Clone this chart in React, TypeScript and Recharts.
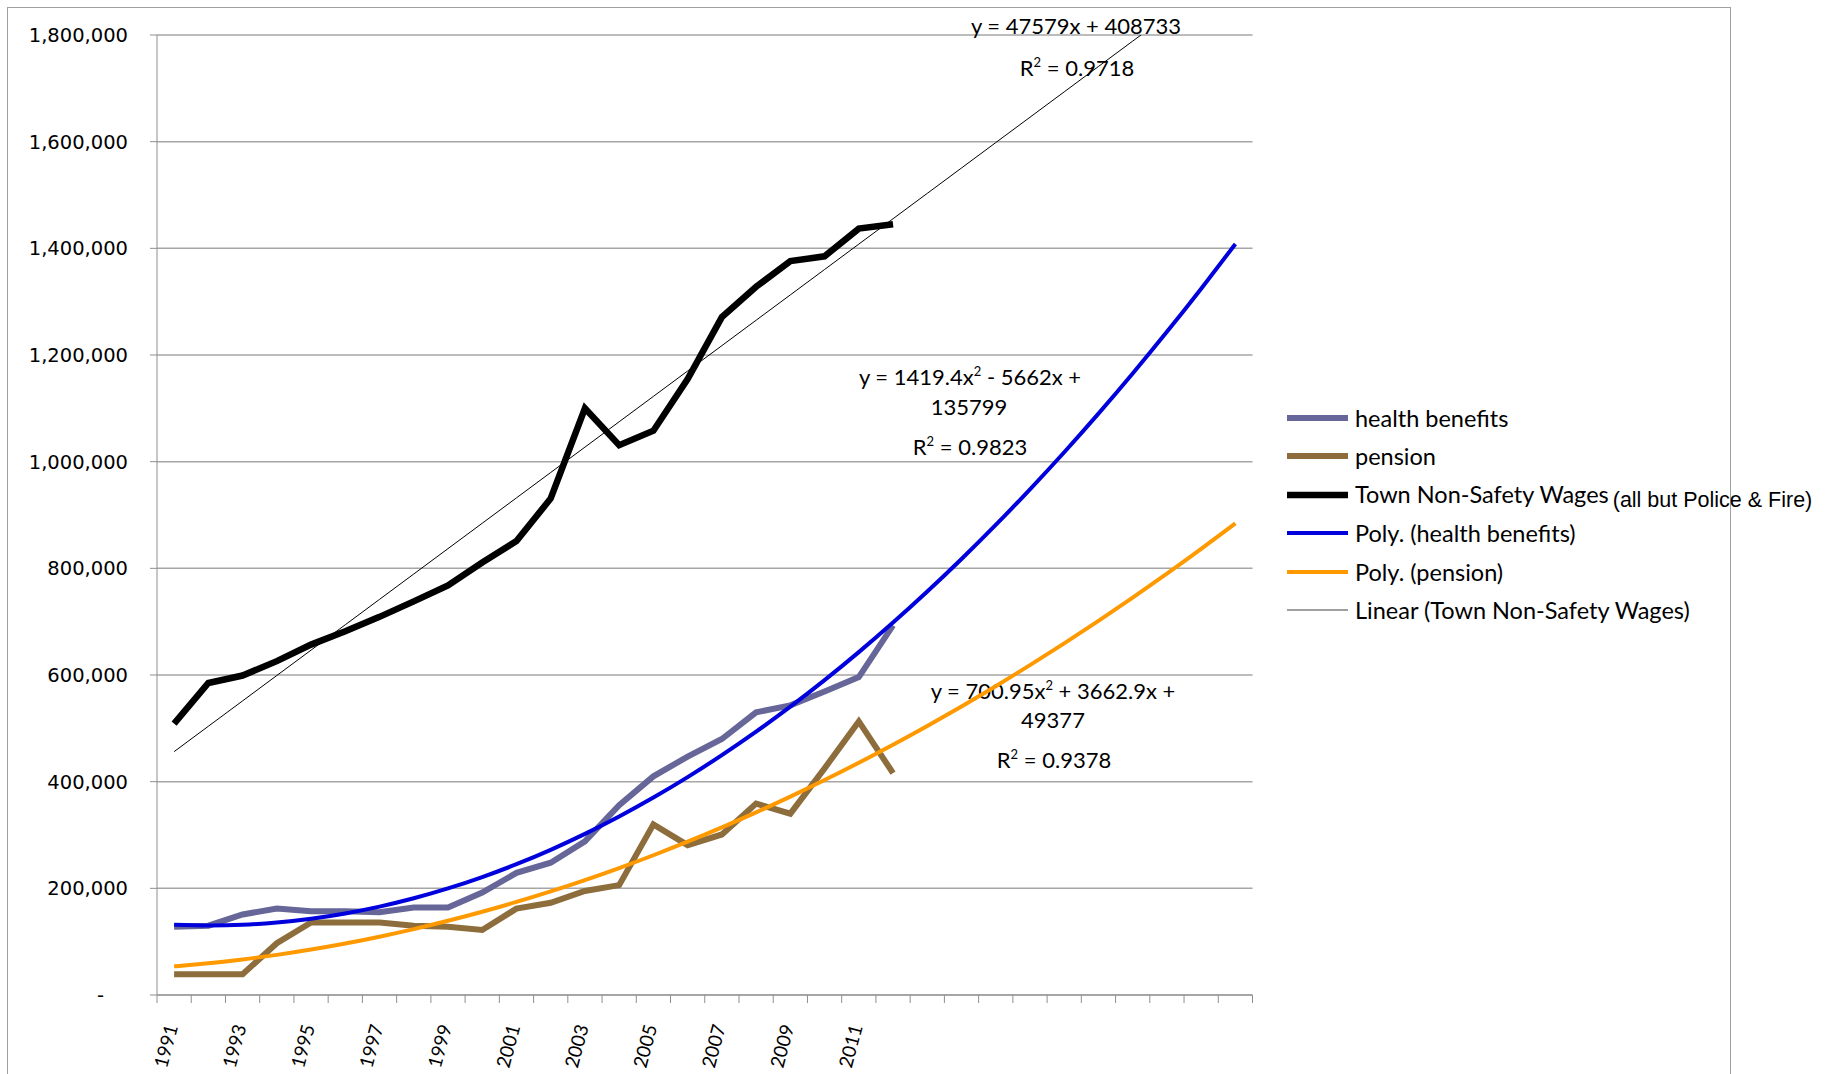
import React from 'react';
import { LineChart, Line, XAxis, YAxis, CartesianGrid, Legend, Customized } from 'recharts';

// Fiscal years with recorded figures
const YEARS = [
  1991, 1992, 1993, 1994, 1995, 1996, 1997, 1998, 1999, 2000, 2001,
  2002, 2003, 2004, 2005, 2006, 2007, 2008, 2009, 2010, 2011, 2012,
];
// Periods the trendlines are projected past the last recorded year
const FORECAST_PERIODS = 10;

const HEALTH_BENEFITS = [
  128000, 130000, 151000, 162000, 157000, 157000, 155000, 164000, 164000, 192000, 229000,
  248000, 288000, 356000, 410000, 447000, 480000, 530000, 543000, 569000, 596000, 693000,
];
const PENSION = [
  39000, 39000, 39000, 97000, 136000, 136000, 136000, 130000, 128000, 122000, 162000,
  173000, 195000, 206000, 320000, 281000, 301000, 359000, 340000, 425000, 513000, 416000,
];
const NON_SAFETY_WAGES = [
  509000, 585000, 599000, 626000, 657000, 682000, 709000, 738000, 768000, 811000, 851000,
  931000, 1100000, 1031000, 1058000, 1155000, 1271000, 1328000, 1376000, 1385000, 1437000, 1445000,
];

const Y_TICKS = [0, 200000, 400000, 600000, 800000, 1000000, 1200000, 1400000, 1600000, 1800000];

// Fitted trendlines, x = period number (1991 = 1)
const WAGES_LINEAR = { slope: 47579, intercept: 408733, r2: 0.9718 };
const HEALTH_POLY = { a: 1419.4, b: -5662, c: 135799, r2: 0.9823 };
const PENSION_POLY = { a: 700.95, b: 3662.9, c: 49377, r2: 0.9378 };

const TOTAL_PERIODS = YEARS.length + FORECAST_PERIODS;

type Poly = { a: number; b: number; c: number };
const quad = (p: Poly, x: number) => p.a * x * x + p.b * x + p.c;
const recorded = (arr: number[], i: number) => (i < YEARS.length ? arr[i] : null);

const chartData = Array.from({ length: TOTAL_PERIODS }, (_, i) => {
  const x = i + 1;
  return {
    period: x,
    health: recorded(HEALTH_BENEFITS, i),
    pension: recorded(PENSION, i),
    wages: recorded(NON_SAFETY_WAGES, i),
    polyHealth: quad(HEALTH_POLY, x),
    polyPension: quad(PENSION_POLY, x),
    linearWages: WAGES_LINEAR.slope * x + WAGES_LINEAR.intercept,
  };
});

// Tick marks sit between categories; year labels on every other category
const BOUNDARY_TICKS = Array.from({ length: TOTAL_PERIODS + 1 }, (_, i) => i + 0.5);
const LABEL_TICKS = YEARS.map((_, i) => i + 1).filter((p) => p % 2 === 1);
const X_TICKS = [...BOUNDARY_TICKS, ...LABEL_TICKS].sort((a, b) => a - b);

const SERIES = [
  { key: 'health', name: 'health benefits', color: '#666699', width: 6, curve: 'linear' },
  { key: 'pension', name: 'pension', color: '#8C6D3B', width: 6, curve: 'linear' },
  { key: 'wages', name: 'Town Non-Safety Wages', note: '(all but Police & Fire)', color: '#000000', width: 6.5, curve: 'linear' },
  { key: 'polyHealth', name: 'Poly. (health benefits)', color: '#0000DD', width: 4, curve: 'natural' },
  { key: 'polyPension', name: 'Poly. (pension)', color: '#FF9900', width: 4, curve: 'natural' },
  { key: 'linearWages', name: 'Linear (Town Non-Safety Wages)', color: '#000000', width: 1, curve: 'linear' },
];

const AXIS_GRAY = '#8f8f8f';
const LABEL_FONT = 'Lato, "Open Sans", sans-serif';

const fmtSigned = (v: number) => (v < 0 ? ` - ${Math.abs(v)}` : ` + ${v}`);

const YTick = (props: any) => {
  const { x, y, payload } = props;
  const zero = payload.value === 0;
  return (
    <text
      x={zero ? x - 24 : x}
      y={y}
      dy="0.36em"
      textAnchor="end"
      fontFamily='"DejaVu Sans", Verdana, sans-serif'
      fontSize={19.5}
      fill="#000"
    >
      {zero ? '-' : Number(payload.value).toLocaleString('en-US')}
    </text>
  );
};

const XTick = (props: any) => {
  const { x, y, payload } = props;
  const v = payload.value as number;
  if (!Number.isInteger(v)) {
    return <line x1={x} x2={x} y1={y} y2={y + 8} stroke={AXIS_GRAY} strokeWidth={1} />;
  }
  const ax = x + 4;
  const ay = y + 31.5;
  return (
    <text
      x={ax}
      y={ay}
      transform={`rotate(-75, ${ax}, ${ay})`}
      textAnchor="end"
      fontFamily={LABEL_FONT}
      fontSize={19}
      fill="#000"
    >
      {YEARS[v - 1]}
    </text>
  );
};

const Sup = ({ children }: { children: React.ReactNode }) => (
  <tspan dy={-9} fontSize={13}>
    {children}
  </tspan>
);

// Trendline equations and R² values
const Annotations = () => (
  <g fontFamily={LABEL_FONT} fontSize={22} fill="#000" textAnchor="middle">
    <text x={1076} y={34}>
      {`y = ${WAGES_LINEAR.slope}x${fmtSigned(WAGES_LINEAR.intercept)}`}
    </text>
    <text x={1077} y={76}>
      R<Sup>2</Sup>
      <tspan dy={9}>{` = ${WAGES_LINEAR.r2}`}</tspan>
    </text>

    <text x={970} y={385}>
      {`y = ${HEALTH_POLY.a}x`}
      <Sup>2</Sup>
      <tspan dy={9}>{`${fmtSigned(HEALTH_POLY.b)}x +`}</tspan>
    </text>
    <text x={969} y={415}>{`${HEALTH_POLY.c}`}</text>
    <text x={970} y={455}>
      R<Sup>2</Sup>
      <tspan dy={9}>{` = ${HEALTH_POLY.r2}`}</tspan>
    </text>

    <text x={1053} y={699}>
      {`y = ${PENSION_POLY.a}x`}
      <Sup>2</Sup>
      <tspan dy={9}>{`${fmtSigned(PENSION_POLY.b)}x +`}</tspan>
    </text>
    <text x={1053} y={728}>{`${PENSION_POLY.c}`}</text>
    <text x={1054} y={768}>
      R<Sup>2</Sup>
      <tspan dy={9}>{` = ${PENSION_POLY.r2}`}</tspan>
    </text>
  </g>
);

const LegendContent = () => (
  <div style={{ fontFamily: LABEL_FONT, fontSize: 23.5, color: '#000', whiteSpace: 'nowrap' }}>
    {SERIES.map((s) => (
      <div key={s.key} style={{ display: 'flex', alignItems: 'center', height: 38.5 }}>
        <svg width={61} height={10} style={{ flex: 'none' }}>
          <line x1={0} x2={61} y1={5} y2={5} stroke={s.key === 'linearWages' ? '#404040' : s.color} strokeWidth={s.width} />
        </svg>
        <span style={{ marginLeft: 7 }}>
          {s.name}
          {s.note ? (
            <span
              style={{
                fontFamily: '"Liberation Sans", Arial, sans-serif',
                fontSize: 21.5,
                marginLeft: 4,
                position: 'relative',
                top: 4,
              }}
            >
              {s.note}
            </span>
          ) : null}
        </span>
      </div>
    ))}
  </div>
);

export default function App() {
  return (
    <div
      style={{
        position: 'absolute',
        left: 0,
        top: 0,
        width: 1832,
        height: 1074,
        overflow: 'hidden',
        background: '#ffffff',
      }}
    >
      <div
        style={{
          position: 'absolute',
          left: 7,
          top: 7,
          width: 1722,
          height: 1200,
          border: '1px solid #a0a0a0',
        }}
      />
      <LineChart
        width={1832}
        height={1074}
        data={chartData}
        margin={{ top: 35, right: 579.5, bottom: 0, left: 0 }}
      >
        <CartesianGrid horizontal vertical={false} stroke="#a6a6a6" strokeWidth={1.5} />
        <XAxis
          dataKey="period"
          type="number"
          domain={[0.5, TOTAL_PERIODS + 0.5]}
          ticks={X_TICKS}
          interval={0}
          allowDataOverflow
          height={79}
          tickSize={0}
          tickMargin={0}
          tickLine={false}
          axisLine={{ stroke: AXIS_GRAY, strokeWidth: 1 }}
          tick={<XTick />}
        />
        <YAxis
          type="number"
          domain={[0, 1800000]}
          ticks={Y_TICKS}
          interval={0}
          allowDataOverflow
          width={157}
          tickSize={7}
          tickMargin={22}
          tickLine={{ stroke: AXIS_GRAY }}
          axisLine={{ stroke: AXIS_GRAY, strokeWidth: 1 }}
          tick={<YTick />}
        />
        {SERIES.map((s) => (
          <Line
            key={s.key}
            dataKey={s.key}
            name={s.name}
            type={s.curve as any}
            stroke={s.color}
            strokeWidth={s.width}
            dot={false}
            activeDot={false}
            isAnimationActive={false}
          />
        ))}
        <Customized component={Annotations} />
        <Legend
          layout="vertical"
          align="center"
          verticalAlign="middle"
          content={<LegendContent />}
          wrapperStyle={{ left: 1287, top: 398.5, width: 545 }}
        />
      </LineChart>
    </div>
  );
}
